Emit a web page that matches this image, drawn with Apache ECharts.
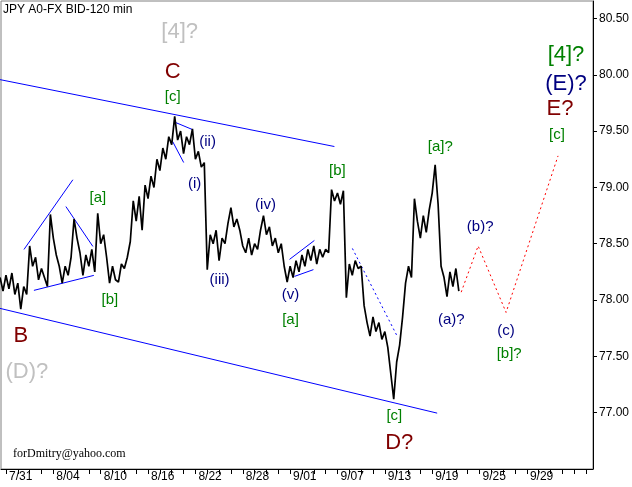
<!DOCTYPE html>
<html><head><meta charset="utf-8">
<script src="https://cdn.jsdelivr.net/npm/echarts@6/dist/echarts.min.js"></script>
<style>html,body{margin:0;padding:0;background:#fff}#c{width:632px;height:487px}</style>
</head><body><div id="c"></div>
<script>
// ---- data ----
const dayLabels = ['7/31','8/04','8/10','8/16','8/22','8/28','9/01','9/07','9/13','9/19','9/25','9/29'];
const labelDays = [0,4,8,12,16,20,24,28,32,36,40,44];
const yTickValues = [77,77.5,78,78.5,79,79.5,80,80.5];
const priceStartDay = -0.5;
const priceStepDay = 0.25;
const prices = [
  78.20,78.08,78.22,78.10,78.24,78.05,78.15,77.92,78.12,78.05,
  78.48,78.30,78.38,78.18,78.28,78.20,78.12,78.76,78.55,78.40,
  78.30,78.15,78.30,78.22,78.38,78.72,78.55,78.42,78.22,78.40,
  78.30,78.45,78.25,78.77,78.50,78.58,78.38,78.15,78.30,78.18,
  78.16,78.32,78.28,78.38,78.52,78.88,78.70,78.92,78.62,79.02,
  78.90,79.10,79.00,79.25,79.15,79.35,79.25,79.45,79.38,79.63,
  79.42,79.50,79.30,79.45,79.38,79.52,79.25,79.32,79.18,79.22,
  78.27,78.58,78.50,78.62,78.35,78.55,78.50,78.68,78.82,78.65,
  78.72,78.62,78.48,78.42,78.55,78.40,78.50,78.45,78.62,78.75,
  78.58,78.65,78.48,78.55,78.42,78.50,78.30,78.16,78.30,78.20,
  78.35,78.25,78.40,78.30,78.45,78.35,78.48,78.32,78.45,78.38,
  78.45,78.42,78.98,78.88,78.95,78.85,78.97,78.02,78.32,78.22,
  78.35,78.28,78.30,77.95,77.80,77.68,77.85,77.72,77.80,77.65,
  77.72,77.58,77.35,77.12,77.45,77.60,77.85,78.15,78.30,78.20,
  78.90,78.70,78.55,78.75,78.60,78.80,78.95,79.20,78.85,78.30,
  78.20,78.03,78.25,78.12,78.28,78.08
];
const upperChannel = [[-0.506,79.957],[27.74,79.363]];
const lowerChannel = [[-0.506,77.926],[36.42,76.996]];
const smallLines = [
  [[1.52,78.449],[5.65,79.068]],
  [[5.06,78.83],[7.34,78.476]],
  [[2.36,78.086],[7.42,78.219]],
  [[14.33,79.576],[15.77,79.513]],
  [[14.08,79.407],[15.01,79.221]],
  [[23.95,78.361],[26.05,78.529]],
  [[24.37,78.21],[25.97,78.27]]
];
const dottedTrend = [[29.26,78.458],[33.05,77.678]];
const projection = [[38.45,78.07],[39.88,78.48],[42.24,77.89],[46.63,79.28]];
const annoText = ['[4]?','C','[c]','(ii)','(i)','[a]','(iv)','(iii)','[b]','(v)','[a]','[b]','[a]?','(b)?','(a)?','(c)','[b]?','[c]','D?','B','(D)?','[4]?','(E)?','E?','[c]'];
const annoAt = [[14.67,80.382],[14.08,80.024],[14.08,79.806],[17.03,79.407],[15.94,79.035],[7.76,78.91],[21.92,78.848],[18.04,78.183],[8.77,78.006],[24.03,78.05],[24.03,77.82],[27.99,79.15],[36.68,79.363],[40.05,78.653],[37.61,77.82],[42.24,77.73],[42.5,77.52],[32.8,76.968],[33.22,76.73],[1.26,77.678],[1.77,77.36],[47.3,80.178],[47.3,79.92],[46.8,79.70],[46.54,79.469]];
const annoKind = ['grayBig','redBig','green','navy','navy','green','navy','navy','green','navy','green','green','green','navy','navy','navy','green','green','redBig','redBig','grayBig','greenBig','navyBig','redBig','green'];

// ---- styles ----
const kindStyle = {
  grayBig:{color:'#c0c0c0',size:22}, redBig:{color:'#800000',size:22},
  greenBig:{color:'#008000',size:22}, navyBig:{color:'#000080',size:22},
  green:{color:'#008000',size:15}, navy:{color:'#000080',size:15}
};
const FONT = 'Liberation Sans, Arial, sans-serif';
const tickDays = [];
for (let d = 0; d <= 49; d++) tickDays.push(d);

const lineSeries = (pts, color, type) => ({
  type:'line', data:pts, showSymbol:false, symbol:'none', silent:true,
  lineStyle:{color:color, width:1, type:type||'solid'}, z:2
});

const series = [
  {type:'line', data:prices.map((p,i)=>[priceStartDay+i*priceStepDay,p]), showSymbol:false, symbol:'none',
   lineStyle:{color:'#000', width:1.7}, z:3},
  lineSeries(upperChannel,'#0000ff'),
  lineSeries(lowerChannel,'#0000ff'),
  ...smallLines.map(l=>lineSeries(l,'#0000ff')),
  lineSeries(dottedTrend,'#0000ff',[2,3]),
  lineSeries(projection,'#ff0000',[2,3]),
  {type:'scatter', symbolSize:1, itemStyle:{color:'transparent', opacity:1}, z:5, silent:true,
   data: annoText.map((t,i)=>({
     value:annoAt[i],
     label:{show:true, position:'inside', formatter:t, color:kindStyle[annoKind[i]].color, opacity:1,
            fontSize:kindStyle[annoKind[i]].size, fontFamily:FONT}
   }))}
];

const chart = echarts.init(document.getElementById('c'), null, {renderer:'canvas'});
chart.setOption({
  animation:false,
  backgroundColor:'#fff',
  title:{text:'JPY A0-FX BID-120 min', left:3, top:4, padding:0,
         textStyle:{fontSize:12, fontWeight:'normal', color:'#000', fontFamily:FONT}},
  grid:{left:1, top:1, right:38, bottom:18, show:true, borderColor:'#808080', borderWidth:1, backgroundColor:'#fff'},
  xAxis:{type:'value', min:-0.42, max:49.58,
    axisLine:{show:true, onZero:false, lineStyle:{color:'#000', width:1}},
    axisTick:{show:true, customValues:tickDays, length:5, lineStyle:{color:'#000'}},
    axisLabel:{customValues:labelDays, formatter:v=>dayLabels[labelDays.indexOf(v)],
      align:'left', padding:[0,0,0,3], margin:2, color:'#000', fontSize:12, fontFamily:FONT},
    splitLine:{show:false}},
  yAxis:{type:'value', position:'right', min:76.5, max:80.655,
    axisLine:{show:true, onZero:false, lineStyle:{color:'#000', width:1}},
    axisTick:{show:true, customValues:yTickValues, length:4, lineStyle:{color:'#000'}},
    axisLabel:{customValues:yTickValues, formatter:v=>v.toFixed(2), margin:6, color:'#000', fontSize:12, fontFamily:FONT},
    splitLine:{show:false}},
  graphic:[{type:'text', left:13, top:448, style:{text:'forDmitry@yahoo.com', font:'12px "Liberation Serif", serif', fill:'#000'}}],
  series: series
});
</script></body></html>
